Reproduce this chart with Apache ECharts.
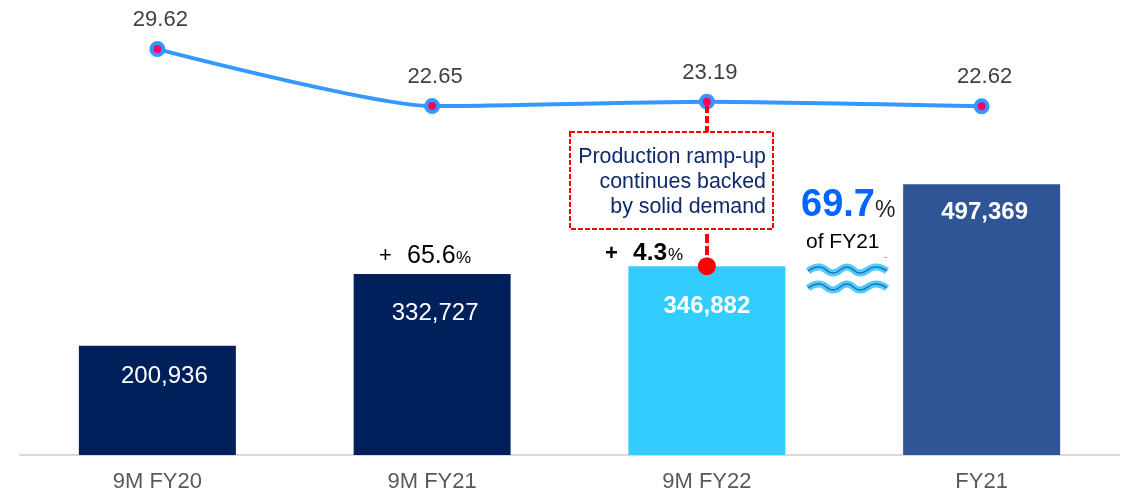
<!DOCTYPE html>
<html>
<head>
<meta charset="utf-8">
<style>
  html, body { margin: 0; padding: 0; background: #fff; }
  #chart { width: 1130px; height: 493px; }
</style>
<script src="https://cdn.jsdelivr.net/npm/echarts@6/dist/echarts.min.js"></script>
</head>
<body>
<div id="chart"></div>
<script>
var categories = ['9M FY20', '9M FY21', '9M FY22', 'FY21']
var barValues = [200936, 332727, 346882, 497369]
var lineValues = [29.62, 22.65, 23.19, 22.62]
var markerValues = [null, null, 346882, null]
var barColors = ['#00205B', '#00205B', '#33CCFF', '#2F5597']

var font = '"Liberation Sans", Arial, sans-serif'
var myChart = echarts.init(document.getElementById('chart'))

// 柱内标签位置与原图略有偏移
var barLabelOffset = [[7, 14], [3, 22], [0, 23], [3, 11]]
var barLabelBold = [false, false, true, true]

function wavePoints(y) {
  return [[808, y + 1], [820, y - 3], [833, y + 3], [847, y - 3], [860, y + 3], [875, y - 3], [887, y + 1]]
}

function wave(y) {
  var pts = wavePoints(y)
  return [
    { type: 'polyline', shape: { points: pts, smooth: 0.5 }, style: { fill: null, stroke: '#4DCCFF', lineWidth: 7 }, z: 20 },
    { type: 'polyline', shape: { points: pts, smooth: 0.5 }, style: { fill: null, stroke: '#2F6DB5', lineWidth: 1.5 }, z: 21 }
  ]
}

function txt(x, y, text, size, color, weight, align) {
  return {
    type: 'text',
    x: x,
    y: y,
    z: 30,
    style: {
      text: text,
      font: (weight || 'normal') + ' ' + size + 'px ' + font,
      fill: color,
      align: align || 'left',
      verticalAlign: 'middle'
    }
  }
}

var option = {
  animation: false,
  backgroundColor: '#fff',
  grid: { left: 20, right: 11, top: 0, bottom: 38 },
  xAxis: {
    type: 'category',
    data: categories,
    axisTick: { show: false },
    axisLine: { lineStyle: { color: '#D9D9D9', width: 2 } },
    axisLabel: { color: '#595959', fontFamily: font, fontSize: 22, margin: 16 }
  },
  yAxis: [
    { type: 'value', min: 0, max: 836000, show: false },
    { type: 'value', min: -20, max: 35.62, show: false }
  ],
  series: [
    {
      type: 'bar',
      yAxisIndex: 0,
      barWidth: 157,
      data: barValues.map(function(v, i) {
        return {
          value: v,
          itemStyle: { color: barColors[i] },
          label: {
            show: true,
            position: 'insideTop',
            offset: barLabelOffset[i],
            color: '#fff',
            fontFamily: font,
            fontSize: 24,
            fontWeight: barLabelBold[i] ? 'bold' : 'normal',
            formatter: function(p) { return p.value.toLocaleString('en-US') }
          }
        }
      })
    },
    {
      type: 'line',
      yAxisIndex: 1,
      data: lineValues,
      smooth: 0.2,
      symbol: 'circle',
      symbolSize: 12,
      z: 5,
      lineStyle: { color: '#3399FF', width: 4 },
      itemStyle: { color: '#FF0066', borderColor: '#3399FF', borderWidth: 4 },
      label: {
        show: true,
        position: 'top',
        distance: 10,
        color: '#404040',
        fontFamily: font,
        fontSize: 22,
        offset: [3, 0],
        formatter: function(p) { return p.value.toFixed(2) }
      }
    },
    {
      // 9M FY22 柱顶红点
      type: 'scatter',
      yAxisIndex: 0,
      data: markerValues,
      symbol: 'circle',
      symbolSize: 18,
      z: 10,
      itemStyle: { color: '#FF0000', opacity: 1 }
    }
  ],
  graphic: [
    // 红色虚线连接
    { type: 'line', shape: { x1: 707, y1: 106, x2: 707, y2: 132 }, style: { stroke: '#FF0000', lineWidth: 4, lineDash: [7, 3] }, z: 6 },
    { type: 'line', shape: { x1: 707, y1: 234, x2: 707, y2: 262 }, style: { stroke: '#FF0000', lineWidth: 4, lineDash: [9, 3] }, z: 6 },
    // 说明框
    { type: 'rect', shape: { x: 570, y: 132, width: 203, height: 97 }, style: { fill: '#fff', stroke: '#FF0000', lineWidth: 2, lineDash: [5, 2] }, z: 7 },
    txt(766, 157, 'Production ramp-up', 21.4, '#0F2A6B', 'normal', 'right'),
    txt(766, 182, 'continues backed', 21.4, '#0F2A6B', 'normal', 'right'),
    txt(766, 207, 'by solid demand', 21.4, '#0F2A6B', 'normal', 'right'),
    // 增长率
    txt(379, 256, '+', 22, '#000', 'normal'),
    txt(407, 256, '65.6', 25, '#000', 'normal'),
    txt(456, 258, '%', 17, '#000', 'normal'),
    txt(605, 254, '+', 22, '#000', 'bold'),
    txt(633, 253, '4.3', 24.5, '#000', 'bold'),
    txt(668, 255, '%', 17, '#000', 'normal'),
    // 占比
    txt(801, 206, '69.7', 38, '#0066FF', 'bold'),
    txt(875, 211, '%', 23, '#262626', 'normal'),
    txt(806, 242, 'of FY21', 21, '#000', 'normal'),
    { type: 'rect', shape: { x: 884, y: 257, width: 3, height: 1 }, style: { fill: '#4DCCFF' }, z: 20 }
  ].concat(wave(270), wave(287))
}

myChart.setOption(option)
</script>
</body>
</html>
